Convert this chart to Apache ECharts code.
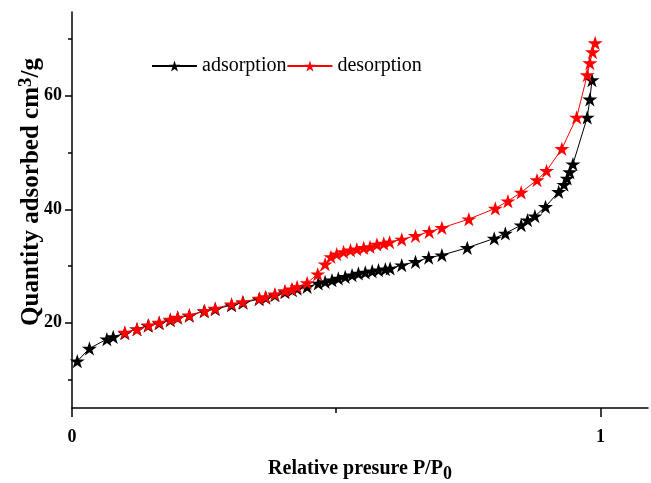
<!DOCTYPE html>
<html style="height: 100%">
<head>
    <meta charset="UTF-8">
    <title>Isotherm</title>
    <script src="https://cdn.jsdelivr.net/npm/echarts@6/dist/echarts.min.js"></script>
</head>
<body style="height: 100%; margin: 0">
    <div id="main" style="width: 651px; height: 483px"></div>
    <script type="text/javascript">
        var myChart = echarts.init(document.getElementById('main'));

        // adsorption branch [P/P0, quantity]
        const adsorption = [
            [0.010, 13.25], [0.033, 15.49], [0.066, 17.13], [0.078, 17.53], [0.100, 18.19],
            [0.123, 18.89], [0.144, 19.51], [0.165, 19.95], [0.186, 20.48], [0.200, 20.92],
            [0.222, 21.27], [0.250, 22.06], [0.271, 22.41], [0.302, 23.12], [0.324, 23.56],
            [0.354, 24.18], [0.367, 24.44], [0.384, 24.88], [0.403, 25.41], [0.417, 25.76],
            [0.426, 26.03], [0.445, 26.34], [0.466, 26.94], [0.479, 27.22], [0.492, 27.52],
            [0.504, 27.82], [0.517, 28.11], [0.530, 28.41], [0.542, 28.70], [0.555, 28.88],
            [0.568, 29.11], [0.580, 29.29], [0.593, 29.46], [0.602, 29.59], [0.624, 30.17],
            [0.650, 30.75], [0.675, 31.49], [0.700, 31.93], [0.748, 33.22], [0.799, 34.87],
            [0.820, 35.75], [0.850, 37.22], [0.862, 38.10], [0.876, 38.80], [0.896, 40.44],
            [0.921, 43.08], [0.931, 44.35], [0.937, 45.44], [0.942, 46.56], [0.948, 47.96],
            [0.975, 56.19], [0.980, 59.38], [0.984, 62.77]
        ];
        // desorption branch
        const desorption = [
            [0.100, 18.31], [0.123, 18.89], [0.145, 19.59], [0.165, 20.07], [0.186, 20.60],
            [0.200, 20.95], [0.222, 21.36], [0.251, 22.11], [0.271, 22.54], [0.302, 23.30],
            [0.323, 23.70], [0.355, 24.30], [0.366, 24.58], [0.384, 25.06], [0.403, 25.64],
            [0.416, 25.94], [0.426, 26.34], [0.445, 27.05], [0.465, 28.58], [0.479, 30.34],
            [0.490, 31.63], [0.501, 32.11], [0.514, 32.51], [0.527, 32.81], [0.539, 32.99],
            [0.552, 33.22], [0.564, 33.39], [0.577, 33.81], [0.590, 33.99], [0.601, 34.22],
            [0.624, 34.70], [0.650, 35.33], [0.676, 36.04], [0.700, 36.74], [0.751, 38.27],
            [0.801, 40.16], [0.825, 41.44], [0.850, 42.98], [0.880, 45.15], [0.898, 46.78],
            [0.927, 50.66], [0.955, 56.19], [0.975, 63.65], [0.980, 65.76], [0.985, 67.70],
            [0.990, 69.29]
        ];
        const xLabels = [0, 1];
        const xMinor = [0.5];
        const yLabels = [20, 40, 60];
        const yMinor = [10, 30, 50, 70];

        const star = 'path://M50 0 L61.23 34.55 L97.55 34.55 L68.17 55.9 L79.39 90.45 L50 69.1 L20.61 90.45 L31.83 55.9 L2.45 34.55 L38.77 34.55 Z';
        const serif = '"Liberation Serif", "Times New Roman", serif';
        const axisLine = {show: true, lineStyle: {color: '#000', width: 1.5}};

        myChart.setOption({
            animation: false,
            grid: {left: 72, right: 3, top: 12, bottom: 75, outerBoundsMode: 'none'},
            legend: {
                left: 146, top: 51,
                itemWidth: 45, itemHeight: 14, itemGap: 0,
                textStyle: {fontFamily: serif, fontSize: 20, color: '#000'},
                data: ['adsorption', 'desorption']
            },
            xAxis: [{
                type: 'value', min: 0, max: 1.09,
                axisLine: axisLine,
                axisTick: {customValues: xLabels, length: 9, lineStyle: {color: '#000', width: 1.5}},
                axisLabel: {customValues: xLabels, margin: 20, fontFamily: serif, fontWeight: 'bold', fontSize: 18, color: '#000'},
                splitLine: {show: false},
                name: '{t|Relative presure P/P}{sub|0}',
                nameLocation: 'middle', nameGap: 46, nameMoveOverlap: false,
                nameTextStyle: {
                    rich: {
                        t: {fontFamily: serif, fontWeight: 'bold', fontSize: 20, color: '#000', lineHeight: 26},
                        sub: {fontFamily: serif, fontWeight: 'bold', fontSize: 18, color: '#000', verticalAlign: 'bottom', padding: [11, 0, 0, 0]}
                    }
                }
            }, {
                type: 'value', min: 0, max: 1.09, position: 'bottom',
                axisLine: {show: false},
                axisTick: {customValues: xMinor, length: 5, lineStyle: {color: '#000', width: 1.5}},
                axisLabel: {show: false},
                splitLine: {show: false}
            }],
            yAxis: [{
                type: 'value', min: 5, max: 74.75,
                axisLine: axisLine,
                axisTick: {customValues: yLabels, length: 7, lineStyle: {color: '#000', width: 1.5}},
                axisLabel: {customValues: yLabels, margin: 10, fontFamily: serif, fontWeight: 'bold', fontSize: 18, color: '#000'},
                splitLine: {show: false},
                name: '{t|Quantity adsorbed cm}{sup|3}{t|/g}',
                nameLocation: 'middle', nameRotate: 90, nameGap: 26, nameMoveOverlap: false,
                nameTextStyle: {
                    padding: [0, 0, 0, 36],
                    rich: {
                        t: {fontFamily: serif, fontWeight: 'bold', fontSize: 25, color: '#000', lineHeight: 28},
                        sup: {fontFamily: serif, fontWeight: 'bold', fontSize: 19, color: '#000', verticalAlign: 'top', padding: [0, 0, 10, 0]}
                    }
                }
            }, {
                type: 'value', min: 5, max: 74.75, position: 'left',
                axisLine: {show: false},
                axisTick: {customValues: yMinor, length: 4, lineStyle: {color: '#000', width: 1.5}},
                axisLabel: {show: false},
                splitLine: {show: false}
            }],
            series: [
                {
                    name: 'adsorption',
                    type: 'line',
                    data: adsorption,
                    symbol: star, symbolSize: 15, symbolKeepAspect: true,
                    itemStyle: {color: '#000'},
                    lineStyle: {color: '#000', width: 1}
                },
                {
                    name: 'desorption',
                    type: 'line',
                    data: desorption,
                    symbol: star, symbolSize: 15, symbolKeepAspect: true,
                    itemStyle: {color: '#ff0000'},
                    lineStyle: {color: '#ff0000', width: 1}
                }
            ]
        });
    </script>
</body>
</html>
